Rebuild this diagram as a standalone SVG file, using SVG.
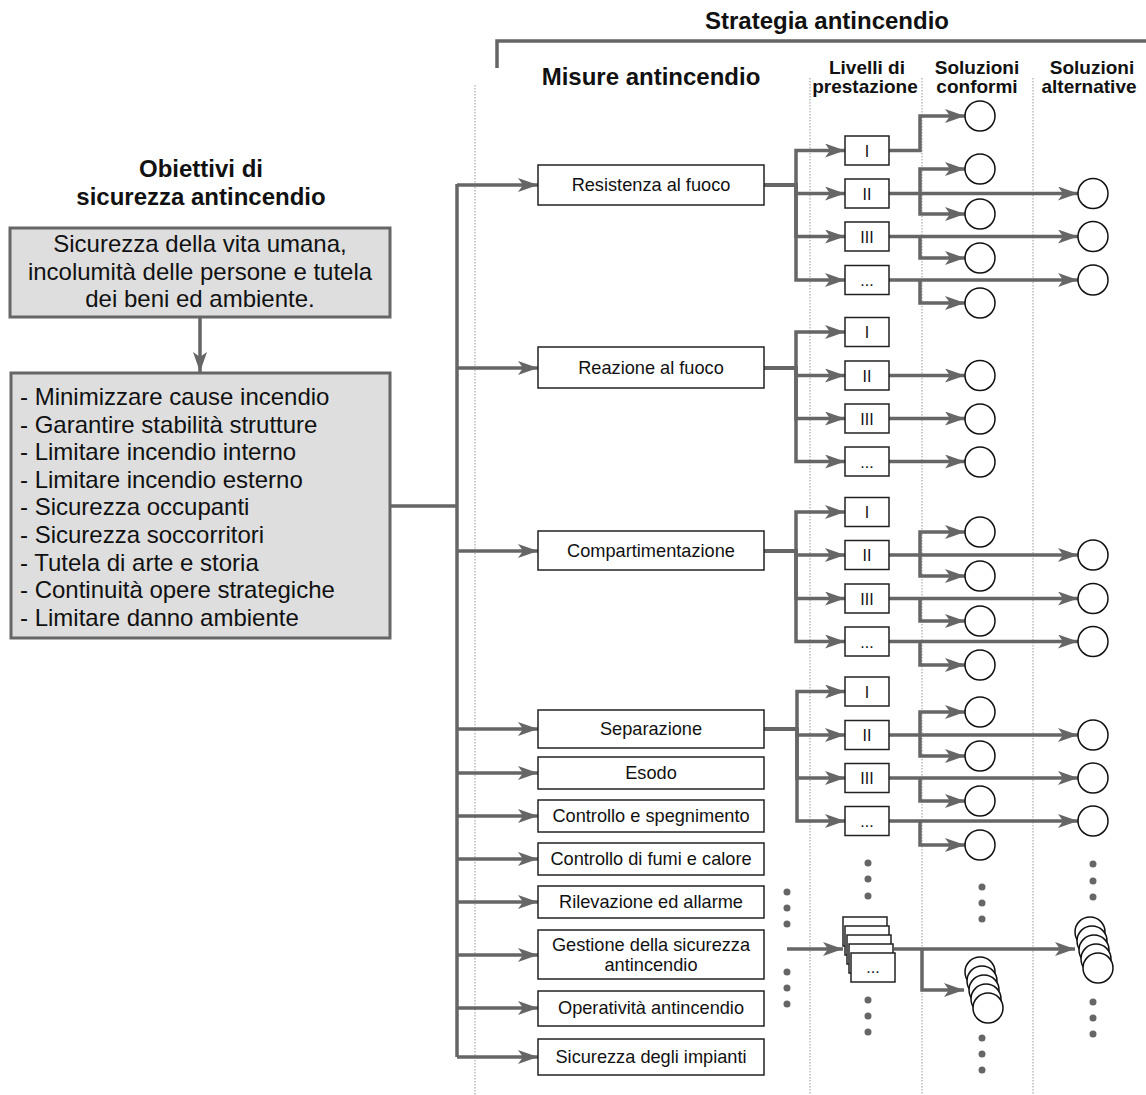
<svg xmlns="http://www.w3.org/2000/svg" width="1146" height="1095" viewBox="0 0 1146 1095">
<style>
text{font-family:"Liberation Sans",Arial,sans-serif;fill:#111}
.t{font-weight:bold;font-size:24px;text-anchor:middle}
.h{font-weight:bold;font-size:19px;text-anchor:middle}
.lt{font-size:24px}
.m{font-size:18.2px;text-anchor:middle}
.lv{font-size:16px;text-anchor:middle}
.gbox{fill:#dedede;stroke:#666;stroke-width:3}
.box{fill:#fff;stroke:#222;stroke-width:1.5}
.c{fill:#fff;stroke:#111;stroke-width:1.5}
.ln{fill:none;stroke:#666;stroke-width:3.5}
.la{fill:none;stroke:#666;stroke-width:3.5;marker-end:url(#ah)}
.dot{stroke:#999;stroke-width:1;stroke-dasharray:1.5,1.5;fill:none}
.d{fill:#666}
</style>
<defs>
<marker id="ah" markerUnits="userSpaceOnUse" markerWidth="20" markerHeight="14" refX="20" refY="7" orient="auto">
<path d="M0,0 L20,7 L0,14 L5,7 z" fill="#666"/>
</marker>
</defs>
<g id="guides">
<path class="dot" d="M475,85 V1095 M810,78 V1095 M922,78 V1095 M1033,78 V1095"/>
</g>
<g id="headers">
<path class="ln" d="M497,68 V41 H1146"/>
<text class="t" x="827" y="29">Strategia antincendio</text>
<text class="t" x="651" y="85">Misure antincendio</text>
<text class="h" x="867" y="74">Livelli di</text>
<text class="h" x="865" y="93">prestazione</text>
<text class="h" x="977" y="74">Soluzioni</text>
<text class="h" x="977" y="93">conformi</text>
<text class="h" x="1092" y="74">Soluzioni</text>
<text class="h" x="1089" y="93">alternative</text>
<text class="t" x="201" y="177">Obiettivi di</text>
<text class="t" x="201" y="205">sicurezza antincendio</text>
</g>
<g id="connectors">
<path class="la" d="M200,318 V372"/>
<path class="ln" d="M390,506 H457 M457,184 V1057"/>
<path class="la" d="M457,185 H538"/>
<path class="la" d="M457,368 H538"/>
<path class="la" d="M457,551 H538"/>
<path class="la" d="M457,729 H538"/>
<path class="la" d="M457,773 H538"/>
<path class="la" d="M457,816 H538"/>
<path class="la" d="M457,859 H538"/>
<path class="la" d="M457,902 H538"/>
<path class="la" d="M457,955 H538"/>
<path class="la" d="M457,1008 H538"/>
<path class="la" d="M457,1057 H538"/>
<!-- Resistenza -->
<path class="la" d="M764,185 H796 V150.5 H845"/>
<path class="la" d="M764,185 H796 V193.5 H845"/>
<path class="la" d="M764,185 H796 V236.5 H845"/>
<path class="la" d="M764,185 H796 V280 H845"/>
<path class="la" d="M889,150.5 H920 V116 H965"/>
<path class="la" d="M889,193.5 H1078"/>
<path class="la" d="M920,193.5 V169 H965"/>
<path class="la" d="M920,193.5 V214 H965"/>
<path class="la" d="M889,236.5 H1078"/>
<path class="la" d="M920,236.5 V258 H965"/>
<path class="la" d="M889,280 H1078"/>
<path class="la" d="M920,280 V303 H965"/>
<!-- Reazione -->
<path class="la" d="M764,368 H796 V332 H845"/>
<path class="la" d="M764,368 H796 V375.5 H845"/>
<path class="la" d="M764,368 H796 V418.5 H845"/>
<path class="la" d="M764,368 H796 V461.5 H845"/>
<path class="la" d="M889,375.5 H965"/>
<path class="la" d="M889,418.5 H965"/>
<path class="la" d="M889,461.5 H965"/>
<!-- Compartimentazione -->
<path class="la" d="M764,551 H796 V512 H845"/>
<path class="la" d="M764,551 H796 V555 H845"/>
<path class="la" d="M764,551 H796 V598.5 H845"/>
<path class="la" d="M764,551 H796 V641.5 H845"/>
<path class="la" d="M889,555 H1078"/>
<path class="la" d="M920,555 V532 H965"/>
<path class="la" d="M920,555 V576 H965"/>
<path class="la" d="M889,598.5 H1078"/>
<path class="la" d="M920,598.5 V621 H965"/>
<path class="la" d="M889,641.5 H1078"/>
<path class="la" d="M920,641.5 V665 H965"/>
<!-- Separazione -->
<path class="la" d="M764,729 H797 V691.5 H845"/>
<path class="la" d="M764,729 H797 V735 H845"/>
<path class="la" d="M764,729 H797 V778 H845"/>
<path class="la" d="M764,729 H797 V821 H845"/>
<path class="la" d="M889,735 H1078"/>
<path class="la" d="M920,735 V712 H965"/>
<path class="la" d="M920,735 V756 H965"/>
<path class="la" d="M889,778 H1078"/>
<path class="la" d="M920,778 V801 H965"/>
<path class="la" d="M889,821 H1078"/>
<path class="la" d="M920,821 V845 H965"/>
<!-- bottom generic -->
<path class="la" d="M787,949 H843"/>
<path class="la" d="M894,949 H1075"/>
<path class="la" d="M922,949 V990 H964"/>
</g>
<g id="obiettivo">
<rect class="gbox" x="10" y="228" width="380" height="89"/>
<text class="lt" x="200" y="252" text-anchor="middle">Sicurezza della vita umana,</text>
<text class="lt" x="200" y="279.5" text-anchor="middle">incolumità delle persone e tutela</text>
<text class="lt" x="200" y="307" text-anchor="middle">dei beni ed ambiente.</text>
</g>
<g id="obiettivi-elenco">
<rect class="gbox" x="11" y="373" width="379" height="265"/>
<text class="lt" x="20" y="405">- Minimizzare cause incendio</text>
<text class="lt" x="20" y="432.6">- Garantire stabilità strutture</text>
<text class="lt" x="20" y="460.2">- Limitare incendio interno</text>
<text class="lt" x="20" y="487.8">- Limitare incendio esterno</text>
<text class="lt" x="20" y="515.4">- Sicurezza occupanti</text>
<text class="lt" x="20" y="543">- Sicurezza soccorritori</text>
<text class="lt" x="20" y="570.6">- Tutela di arte e storia</text>
<text class="lt" x="20" y="598.2">- Continuità opere strategiche</text>
<text class="lt" x="20" y="625.8">- Limitare danno ambiente</text>
</g>
<g id="misure">
<g id="m-resistenza"><rect class="box" x="538" y="165" width="226" height="40"/><text class="m" x="651" y="191">Resistenza al fuoco</text></g>
<g id="m-reazione"><rect class="box" x="538" y="347" width="226" height="41"/><text class="m" x="651" y="374">Reazione al fuoco</text></g>
<g id="m-compartimentazione"><rect class="box" x="538" y="531" width="226" height="39"/><text class="m" x="651" y="557">Compartimentazione</text></g>
<g id="m-separazione"><rect class="box" x="538" y="710" width="226" height="38"/><text class="m" x="651" y="735">Separazione</text></g>
<g id="m-esodo"><rect class="box" x="538" y="757" width="226" height="32"/><text class="m" x="651" y="779">Esodo</text></g>
<g id="m-controllo"><rect class="box" x="538" y="800" width="226" height="32"/><text class="m" x="651" y="822">Controllo e spegnimento</text></g>
<g id="m-fumi"><rect class="box" x="538" y="843" width="226" height="32"/><text class="m" x="651" y="865">Controllo di fumi e calore</text></g>
<g id="m-rilevazione"><rect class="box" x="538" y="886" width="226" height="32"/><text class="m" x="651" y="908">Rilevazione ed allarme</text></g>
<g id="m-gestione"><rect class="box" x="538" y="930" width="226" height="49"/><text class="m" x="651" y="951">Gestione della sicurezza</text><text class="m" x="651" y="971">antincendio</text></g>
<g id="m-operativita"><rect class="box" x="538" y="991" width="226" height="35"/><text class="m" x="651" y="1014">Operatività antincendio</text></g>
<g id="m-impianti"><rect class="box" x="538" y="1039" width="226" height="36"/><text class="m" x="651" y="1063">Sicurezza degli impianti</text></g>
</g>
<g id="livelli">
<g id="lv-r1"><rect class="box" x="845" y="136" width="44" height="29"/><text class="lv" x="867" y="156.5">I</text></g>
<g id="lv-r2"><rect class="box" x="845" y="179" width="44" height="29"/><text class="lv" x="867" y="199.5">II</text></g>
<g id="lv-r3"><rect class="box" x="845" y="222" width="44" height="29"/><text class="lv" x="867" y="242.5">III</text></g>
<g id="lv-r4"><rect class="box" x="845" y="265.5" width="44" height="29"/><text class="lv" x="867" y="286">...</text></g>
<g id="lv-e1"><rect class="box" x="845" y="317.5" width="44" height="29"/><text class="lv" x="867" y="338">I</text></g>
<g id="lv-e2"><rect class="box" x="845" y="361" width="44" height="29"/><text class="lv" x="867" y="381.5">II</text></g>
<g id="lv-e3"><rect class="box" x="845" y="404" width="44" height="29"/><text class="lv" x="867" y="424.5">III</text></g>
<g id="lv-e4"><rect class="box" x="845" y="447" width="44" height="29"/><text class="lv" x="867" y="467.5">...</text></g>
<g id="lv-c1"><rect class="box" x="845" y="497.5" width="44" height="29"/><text class="lv" x="867" y="518">I</text></g>
<g id="lv-c2"><rect class="box" x="845" y="540.5" width="44" height="29"/><text class="lv" x="867" y="561">II</text></g>
<g id="lv-c3"><rect class="box" x="845" y="584" width="44" height="29"/><text class="lv" x="867" y="604.5">III</text></g>
<g id="lv-c4"><rect class="box" x="845" y="627" width="44" height="29"/><text class="lv" x="867" y="647.5">...</text></g>
<g id="lv-s1"><rect class="box" x="845" y="677" width="44" height="29"/><text class="lv" x="867" y="697.5">I</text></g>
<g id="lv-s2"><rect class="box" x="845" y="720.5" width="44" height="29"/><text class="lv" x="867" y="741">II</text></g>
<g id="lv-s3"><rect class="box" x="845" y="763.5" width="44" height="29"/><text class="lv" x="867" y="784">III</text></g>
<g id="lv-s4"><rect class="box" x="845" y="806.5" width="44" height="29"/><text class="lv" x="867" y="827">...</text></g>
<g id="lv-stack">
<rect class="box" x="843" y="917" width="44" height="29"/>
<rect class="box" x="845" y="926" width="44" height="29"/>
<rect class="box" x="847" y="935" width="44" height="29"/>
<rect class="box" x="849" y="944" width="44" height="29"/>
<rect class="box" x="851" y="953" width="44" height="29"/>
<text class="lv" x="873" y="973">...</text>
</g>
</g>
<g id="soluzioni">
<circle class="c" cx="980" cy="116" r="15"/>
<circle class="c" cx="980" cy="169" r="15"/>
<circle class="c" cx="980" cy="214" r="15"/>
<circle class="c" cx="980" cy="258" r="15"/>
<circle class="c" cx="980" cy="303" r="15"/>
<circle class="c" cx="1093" cy="193.5" r="15"/>
<circle class="c" cx="1093" cy="236.5" r="15"/>
<circle class="c" cx="1093" cy="280" r="15"/>
<circle class="c" cx="980" cy="375.5" r="15"/>
<circle class="c" cx="980" cy="419" r="15"/>
<circle class="c" cx="980" cy="462" r="15"/>
<circle class="c" cx="980" cy="532" r="15"/>
<circle class="c" cx="980" cy="576" r="15"/>
<circle class="c" cx="980" cy="621" r="15"/>
<circle class="c" cx="980" cy="665" r="15"/>
<circle class="c" cx="1093" cy="555" r="15"/>
<circle class="c" cx="1093" cy="598.5" r="15"/>
<circle class="c" cx="1093" cy="641.5" r="15"/>
<circle class="c" cx="980" cy="712" r="15"/>
<circle class="c" cx="980" cy="756" r="15"/>
<circle class="c" cx="980" cy="801" r="15"/>
<circle class="c" cx="980" cy="845" r="15"/>
<circle class="c" cx="1093" cy="735" r="15"/>
<circle class="c" cx="1093" cy="778" r="15"/>
<circle class="c" cx="1093" cy="821" r="15"/>
<g id="stack-conformi">
<circle class="c" cx="980" cy="972" r="15"/>
<circle class="c" cx="982" cy="981" r="15"/>
<circle class="c" cx="984" cy="990" r="15"/>
<circle class="c" cx="986" cy="999" r="15"/>
<circle class="c" cx="988" cy="1008" r="15"/>
</g>
<g id="stack-alternative">
<circle class="c" cx="1090" cy="932" r="15"/>
<circle class="c" cx="1092" cy="941" r="15"/>
<circle class="c" cx="1094" cy="950" r="15"/>
<circle class="c" cx="1096" cy="959" r="15"/>
<circle class="c" cx="1098" cy="968" r="15"/>
</g>
</g>
<g id="ellipsis-dots">
<circle class="d" cx="787" cy="892" r="3.5"/><circle class="d" cx="787" cy="908" r="3.5"/><circle class="d" cx="787" cy="924" r="3.5"/>
<circle class="d" cx="787" cy="972" r="3.5"/><circle class="d" cx="787" cy="988" r="3.5"/><circle class="d" cx="787" cy="1004" r="3.5"/>
<circle class="d" cx="868" cy="863" r="3.5"/><circle class="d" cx="868" cy="879" r="3.5"/><circle class="d" cx="868" cy="896" r="3.5"/>
<circle class="d" cx="868" cy="1000" r="3.5"/><circle class="d" cx="868" cy="1016" r="3.5"/><circle class="d" cx="868" cy="1032" r="3.5"/>
<circle class="d" cx="982" cy="887" r="3.5"/><circle class="d" cx="982" cy="903" r="3.5"/><circle class="d" cx="982" cy="919" r="3.5"/>
<circle class="d" cx="982" cy="1038" r="3.5"/><circle class="d" cx="982" cy="1054" r="3.5"/><circle class="d" cx="982" cy="1070" r="3.5"/>
<circle class="d" cx="1093" cy="864" r="3.5"/><circle class="d" cx="1093" cy="881" r="3.5"/><circle class="d" cx="1093" cy="897" r="3.5"/>
<circle class="d" cx="1093" cy="1002" r="3.5"/><circle class="d" cx="1093" cy="1018" r="3.5"/><circle class="d" cx="1093" cy="1034" r="3.5"/>
</g>
</svg>
